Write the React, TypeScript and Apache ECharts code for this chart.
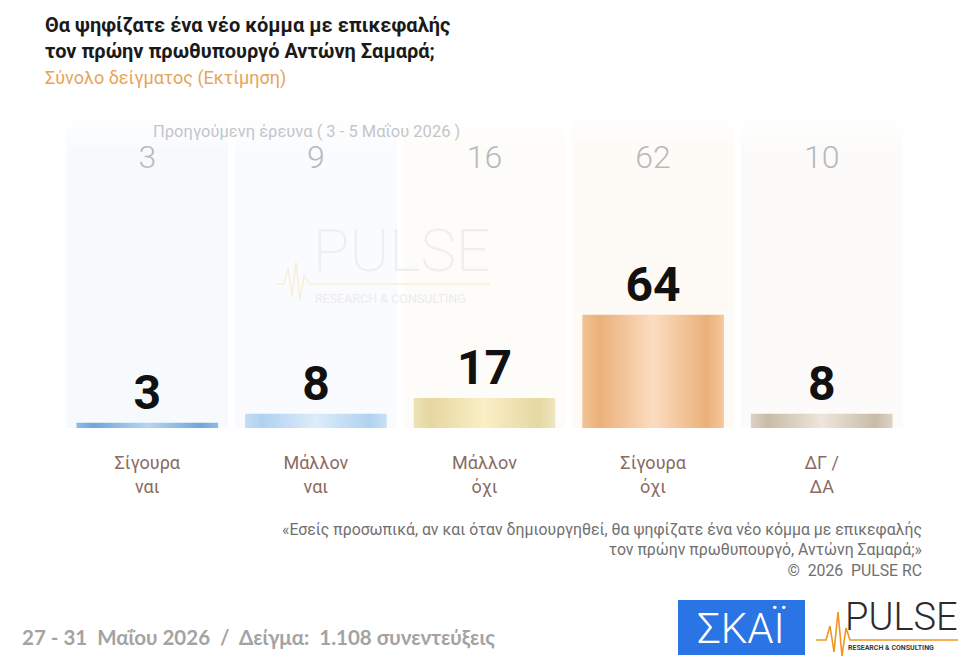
import React, { useEffect, useRef } from "react";
import * as echarts from "echarts";

const categories = ["Σίγουρα\nναι", "Μάλλον\nναι", "Μάλλον\nόχι", "Σίγουρα\nόχι", "ΔΓ /\nΔΑ"];
const values = [3, 8, 17, 64, 8];
const prevValues = [3, 9, 16, 62, 10];
const prevLabel = "Προηγούμενη έρευνα ( 3 - 5 Μαΐου 2026 )";
const titleLines = ["Θα ψηφίζατε ένα νέο κόμμα με επικεφαλής", "τον πρώην πρωθυπουργό Αντώνη Σαμαρά;"];
const subtitle = "Σύνολο δείγματος (Εκτίμηση)";
const footnote = "«Εσείς προσωπικά, αν και όταν δημιουργηθεί, θα ψηφίζατε ένα νέο κόμμα με επικεφαλής\nτον πρώην πρωθυπουργό, Αντώνη Σαμαρά;»\n©  2026  PULSE RC";
const bottomNote = "27 - 31  Μαΐου 2026  /  Δείγμα:  1.108 συνεντεύξεις";

const Y_MAX = 178;

const barStops: string[][] = [
  ["#8cbde6", "#6fa6da", "#b6d6f0", "#6fa6da", "#8cbde6"],
  ["#c4def4", "#b0d2f0", "#dcecfa", "#b0d2f0", "#c8e1f5"],
  ["#eee3b6", "#e6d7a0", "#faefc6", "#e6d8a2", "#efe6c2"],
  ["#f2c496", "#ebb07a", "#fcdcc0", "#ebb07a", "#f4c8a0"],
  ["#dcd2c5", "#c8bba8", "#eee6dc", "#c8bba8", "#ddd3c6"],
];
const colBg = ["#f7fafd", "#f9fbfe", "#fefcf8", "#fefaf5", "#fcfbf9"];

function grad(stops: string[]) {
  const pos = [0, 0.12, 0.5, 0.88, 1];
  return new echarts.graphic.LinearGradient(0, 0, 1, 0,
    stops.map((c, i) => ({ offset: pos[i], color: c })));
}

function colGrad(c: string) {
  return new echarts.graphic.LinearGradient(0, 0, 0, 1, [
    { offset: 0, color: "#ffffff" },
    { offset: 0.12, color: c },
    { offset: 1, color: c },
  ]);
}

export default function App() {
  const ref = useRef<HTMLDivElement>(null);
  useEffect(() => {
    if (!ref.current) return;
    const chart = echarts.init(ref.current, null, { renderer: "svg" });
    const option: any = {
      animation: false,
      backgroundColor: "#ffffff",
      grid: { left: 63, right: 52, top: 113, bottom: 233 },
      xAxis: [
        {
          type: "category",
          data: categories,
          axisLine: { show: false },
          axisTick: { show: false },
          axisLabel: {
            color: "#8b6b5f",
            fontSize: 18,
            lineHeight: 24,
            margin: 22,
            fontFamily: "Roboto",
          },
        },
        { type: "category", data: categories, show: false },
      ],
      yAxis: { type: "value", min: 0, max: Y_MAX, show: false, splitLine: { show: false } },
      series: [
        {
          type: "bar",
          xAxisIndex: 1,
          barWidth: "96%",
          silent: true,
          data: categories.map((_, i) => ({ value: Y_MAX, itemStyle: { color: colGrad(colBg[i]) } })),
          label: {
            show: true,
            position: "insideTop",
            distance: 28,
            formatter: (p: any) => String(prevValues[p.dataIndex]),
            fontSize: 32,
            fontWeight: 300,
            fontFamily: "Roboto",
            color: "#b6babe",
          },
          z: 1,
        },
        {
          type: "bar",
          xAxisIndex: 0,
          barWidth: "84%",
          data: values.map((v, i) => ({ value: v, itemStyle: { color: grad(barStops[i]) } })),
          label: {
            show: true,
            position: "top",
            distance: 6,
            fontSize: 48,
            fontWeight: "bold",
            fontFamily: "'Liberation Sans Narrow', 'Roboto', sans-serif",
            color: "#111111",
          },
          z: 3,
        },
      ],
      graphic: [
        // watermark
        {
          type: "text", left: 313, top: 220, z: 2, silent: true,
          style: { text: "PULSE", fontSize: 60, fontWeight: 200, fontFamily: "Roboto", fill: "#efefef" },
        },
        {
          type: "polyline", z: 2, silent: true,
          shape: { points: [[276, 284], [284, 284], [288, 268], [292, 296], [296, 262], [300, 300], [304, 276], [310, 284], [490, 284]] },
          style: { stroke: "#f7efd6", lineWidth: 1.5, fill: "none" },
        },
        {
          type: "text", left: 315, top: 292, z: 2, silent: true,
          style: { text: "RESEARCH & CONSULTING", fontSize: 12.5, fontFamily: "Roboto", fill: "#ececec" },
        },
        // titles
        {
          type: "text", left: 45, top: 12,
          style: { text: titleLines.join("\n"), fontSize: 20, lineHeight: 26, fontWeight: "bold", fontFamily: "Roboto", fill: "#1a1a1a" },
        },
        {
          type: "text", left: 45, top: 68,
          style: { text: subtitle, fontSize: 18, fontFamily: "Roboto", fill: "#e9a35a" },
        },
        {
          type: "text", left: 153, top: 123, z: 5,
          style: { text: prevLabel, fontSize: 16.5, fontFamily: "Roboto", fill: "#c3c6c9" },
        },
        // footnote
        {
          type: "text", x: 922, y: 519,
          style: { text: footnote, fontSize: 15.8, lineHeight: 20.5, fontFamily: "Roboto", fill: "#707070", align: "right", verticalAlign: "top" },
        },
        {
          type: "text", left: 22, top: 626,
          style: { text: bottomNote, fontSize: 20.5, fontWeight: "bold", fontFamily: "Lato, 'Open Sans', sans-serif", fill: "#a3a3a3" },
        },
        // SKAI logo
        {
          type: "rect", shape: { x: 678, y: 600, width: 127, height: 55 },
          style: { fill: "#2a74e6" },
        },
        {
          type: "text", x: 741, y: 628,
          style: { text: "ΣΚΑΪ", fontSize: 42, fontWeight: 300, fontFamily: "Roboto", fill: "#ffffff", align: "center", verticalAlign: "middle" },
        },
        // PULSE logo
        {
          type: "text", left: 845, top: 598,
          style: { text: "PULSE", fontSize: 38, fontWeight: 300, fontFamily: "Roboto", fill: "#2b2b2b" },
        },
        {
          type: "polyline",
          shape: { points: [[816, 640], [826, 640], [830, 626], [834, 652], [838, 612], [842, 656], [846, 628], [850, 640], [958, 640]] },
          style: { stroke: "#f0961e", lineWidth: 1.6, fill: "none" },
        },
        {
          type: "text", left: 848, top: 644,
          style: { text: "RESEARCH & CONSULTING", fontSize: 7, fontWeight: "bold", fontFamily: "Roboto", fill: "#3a3a3a" },
        },
      ],
    };
    chart.setOption(option);
    return () => chart.dispose();
  }, []);
  return (
    <div
      ref={ref}
      style={{ position: "fixed", left: 0, top: 0, width: 958, height: 661, background: "#fff" }}
    />
  );
}
